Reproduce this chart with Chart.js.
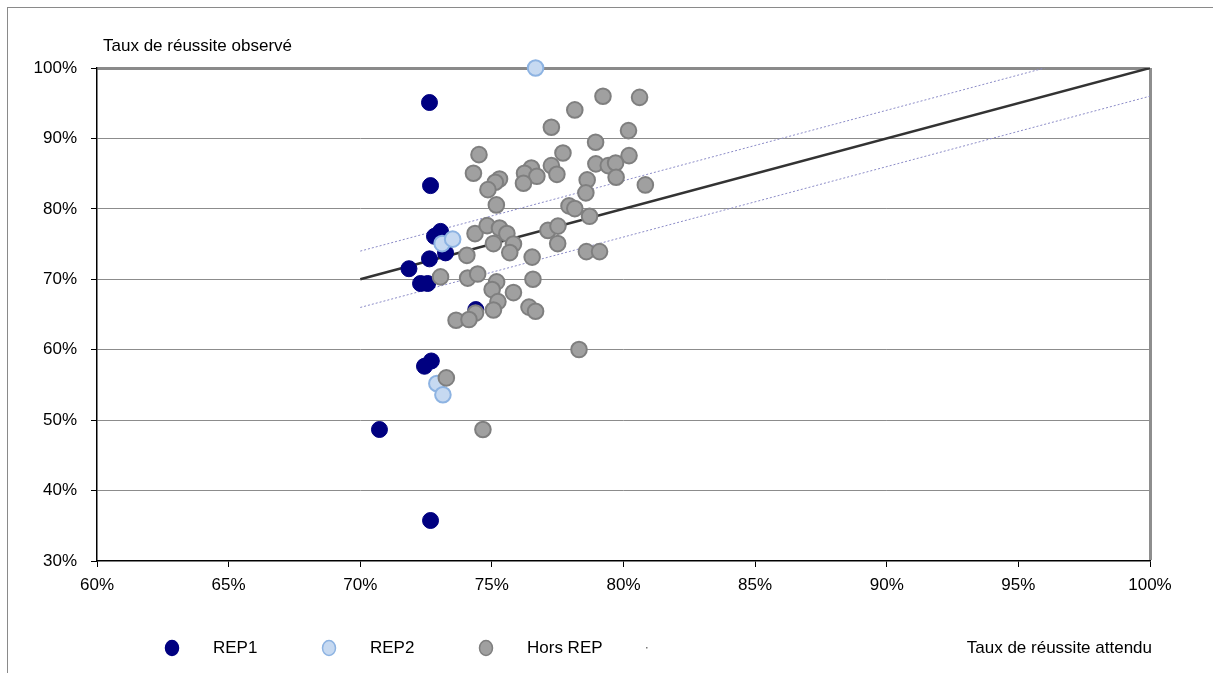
<!DOCTYPE html>
<html lang="fr">
<head>
<meta charset="utf-8">
<title>Taux de réussite observé / attendu</title>
<script src="https://cdn.jsdelivr.net/npm/chart.js@4/dist/chart.umd.min.js"></script>
<style>
  html, body { margin: 0; padding: 0; background: #fff; }
  #wrap { position: relative; width: 1213px; height: 673px; }
</style>
</head>
<body>
<div id="wrap"><canvas id="c" width="1213" height="673"></canvas></div>
<script>
// Établissements REP1
const rep1X = [72.63, 72.67, 73.05, 72.82, 72.63, 73.24, 71.85, 72.29, 72.56, 74.39, 72.70, 72.44, 70.73, 72.67];
const rep1Y = [95.1, 83.3, 76.8, 76.1, 72.9, 73.75, 71.5, 69.4, 69.4, 65.7, 58.4, 57.65, 48.67, 35.75];

// Établissements REP2
const rep2X = [76.66, 73.11, 73.51, 72.91, 73.14];
const rep2Y = [100.0, 75.07, 75.7, 55.2, 53.6];

// Établissements hors REP
const horsX = [73.27, 74.66, 73.05, 74.05, 74.08, 74.46, 75.18, 75.01, 75.82, 76.53,
               76.56, 75.23, 75.06, 74.38, 73.64, 74.13, 76.41, 76.66, 74.36, 74.82,
               75.29, 75.57, 75.06, 75.82, 75.68, 77.13, 77.51, 77.50, 78.59, 79.09,
               78.31, 79.22, 80.61, 78.15, 77.26, 80.19, 78.94, 74.51, 77.70, 80.21,
               74.30, 76.50, 76.24, 76.71, 76.20, 77.26, 77.47, 75.29, 75.13, 74.85,
               78.95, 79.42, 79.70, 79.72, 78.62, 78.57, 80.83, 75.17, 77.93, 78.15,
               78.71];
const horsY = [56.0, 48.67, 70.34, 73.4, 70.17, 70.74, 69.63, 68.54, 68.11, 73.15,
               70.0, 66.83, 65.63, 65.2, 64.18, 64.28, 66.05, 65.46, 76.49, 77.62,
               77.27, 76.49, 75.07, 75.0, 73.79, 76.94, 77.55, 75.07, 73.93, 73.93,
               60.02, 95.98, 95.83, 94.05, 91.58, 91.11, 89.45, 87.7, 87.94, 87.56,
               85.05, 85.81, 85.05, 84.62, 83.63, 86.14, 84.9, 84.25, 83.77, 82.73,
               86.39, 86.14, 86.52, 84.48, 84.11, 82.27, 83.4, 80.56, 80.42, 80.04,
               78.94];

// Droite observé = attendu, et bande de ±4 points
const diagX  = [70, 100];
const diagY  = [70, 100];
const upperX = [70, 96];
const upperY = [74, 100];
const lowerX = [70, 100];
const lowerY = [66, 96];

// Graduations des axes
const xTicks = [60, 65, 70, 75, 80, 85, 90, 95, 100];
const yTicks = [30, 40, 50, 60, 70, 80, 90, 100];

const yTitle = 'Taux de réussite observé';
const xTitle = 'Taux de réussite attendu';
const seriesNames = ['REP1', 'REP2', 'Hors REP'];

const pts = (xs, ys) => xs.map((x, i) => ({ x: x, y: ys[i] }));

const FONT = "'Liberation Sans', Arial, sans-serif";
const FONT_SIZE = 17;

// Cadre, titres des axes et légende
const decorations = {
  id: 'decorations',
  beforeDraw(chart) {
    const c = chart.ctx;
    c.save();
    c.fillStyle = '#fff';
    c.fillRect(0, 0, chart.width, chart.height);
    c.restore();
  },
  afterDraw(chart) {
    const c = chart.ctx;
    c.save();
    // cadre extérieur
    c.strokeStyle = '#8a8a8a';
    c.lineWidth = 1;
    c.strokeRect(7.5, 7.5, 1400, 800);

    c.fillStyle = '#000';
    c.font = FONT_SIZE + 'px ' + FONT;
    c.textBaseline = 'middle';
    c.textAlign = 'left';
    c.fillText(yTitle, 103, 46);
    c.textAlign = 'right';
    c.fillText(xTitle, 1152, 648);

    // légende, dans l'ordre REP1, REP2, Hors REP, trait
    const items = chart.data.datasets
      .filter(d => d.legendRank !== undefined)
      .sort((a, b) => a.legendRank - b.legendRank);
    const y = 648;
    items.forEach((d, i) => {
      const cx = 172 + i * 157;
      if (d.label) {
        c.beginPath();
        c.ellipse(cx, y, 6.5, 7.5, 0, 0, Math.PI * 2);
        c.fillStyle = d.backgroundColor;
        c.fill();
        c.lineWidth = 1.5;
        c.strokeStyle = d.borderColor;
        c.stroke();
        c.fillStyle = '#000';
        c.textAlign = 'left';
        c.fillText(d.label, cx + 41, y);
      } else {
        c.fillStyle = '#777';
        c.fillRect(cx + 3, y - 1, 1.5, 1.5);
      }
    });
    c.restore();
  }
};

new Chart(document.getElementById('c'), {
  type: 'scatter',
  data: {
    datasets: [
      {
        label: seriesNames[2], legendRank: 2, order: 1, clip: false,
        data: pts(horsX, horsY),
        backgroundColor: '#a0a0a0', borderColor: '#7f7f7f', borderWidth: 2,
        pointRadius: 7.8, pointHoverRadius: 7.8
      },
      {
        label: seriesNames[1], legendRank: 1, order: 2, clip: false,
        data: pts(rep2X, rep2Y),
        backgroundColor: '#c6d9f1', borderColor: '#8db3e2', borderWidth: 2,
        pointRadius: 7.8, pointHoverRadius: 7.8
      },
      {
        label: seriesNames[0], legendRank: 0, order: 3, clip: false,
        data: pts(rep1X, rep1Y),
        backgroundColor: '#000080', borderColor: '#000080', borderWidth: 1,
        pointRadius: 8, pointHoverRadius: 8
      },
      {
        label: '', legendRank: 3, order: 4,
        data: pts(diagX, diagY),
        showLine: true, borderColor: '#333333', borderWidth: 2.5,
        pointRadius: 0, backgroundColor: '#333333'
      },
      {
        label: '', order: 5,
        data: pts(upperX, upperY),
        showLine: true, borderColor: '#8c8cc8', borderWidth: 1, borderDash: [2, 2],
        pointRadius: 0
      },
      {
        label: '', order: 6,
        data: pts(lowerX, lowerY),
        showLine: true, borderColor: '#8c8cc8', borderWidth: 1, borderDash: [2, 2],
        pointRadius: 0
      }
    ]
  },
  options: {
    responsive: false,
    animation: false,
    devicePixelRatio: 1,
    events: [],
    layout: { padding: { top: 68, right: 63, bottom: 72, left: 0 } },
    plugins: { legend: { display: false }, tooltip: { enabled: false } },
    scales: {
      x: {
        type: 'linear', min: 60, max: 100,
        afterFit(s) { s.height = 40; },
        afterBuildTicks(s) { s.ticks = xTicks.map(v => ({ value: v })); },
        ticks: {
          callback: v => v + '%', color: '#000', padding: 8, maxRotation: 0,
          font: { family: FONT, size: FONT_SIZE }
        },
        grid: {
          color: ctx => (ctx.tick && ctx.tick.value === 100) ? '#8e8e8e' : 'rgba(0,0,0,0)',
          lineWidth: ctx => (ctx.tick && ctx.tick.value === 100) ? 3 : 1,
          tickLength: 6, tickColor: '#000', tickWidth: 1
        },
        border: { color: '#000', width: 1.5 }
      },
      y: {
        type: 'linear', min: 30, max: 100,
        afterFit(s) { s.width = 97; },
        afterBuildTicks(s) { s.ticks = yTicks.map(v => ({ value: v })); },
        ticks: {
          callback: v => v + '%', color: '#000', padding: 14,
          font: { family: FONT, size: FONT_SIZE }
        },
        grid: {
          color: ctx => {
            const v = ctx.tick ? ctx.tick.value : null;
            if (v === 30) return 'rgba(0,0,0,0)';
            return v === 100 ? '#8a8a8a' : '#8c8c8c';
          },
          lineWidth: ctx => (ctx.tick && ctx.tick.value === 100) ? 3 : 1,
          tickLength: 6, tickColor: '#000', tickWidth: 1
        },
        border: { color: '#000', width: 1.5 }
      }
    }
  },
  plugins: [decorations]
});
</script>
</body>
</html>
